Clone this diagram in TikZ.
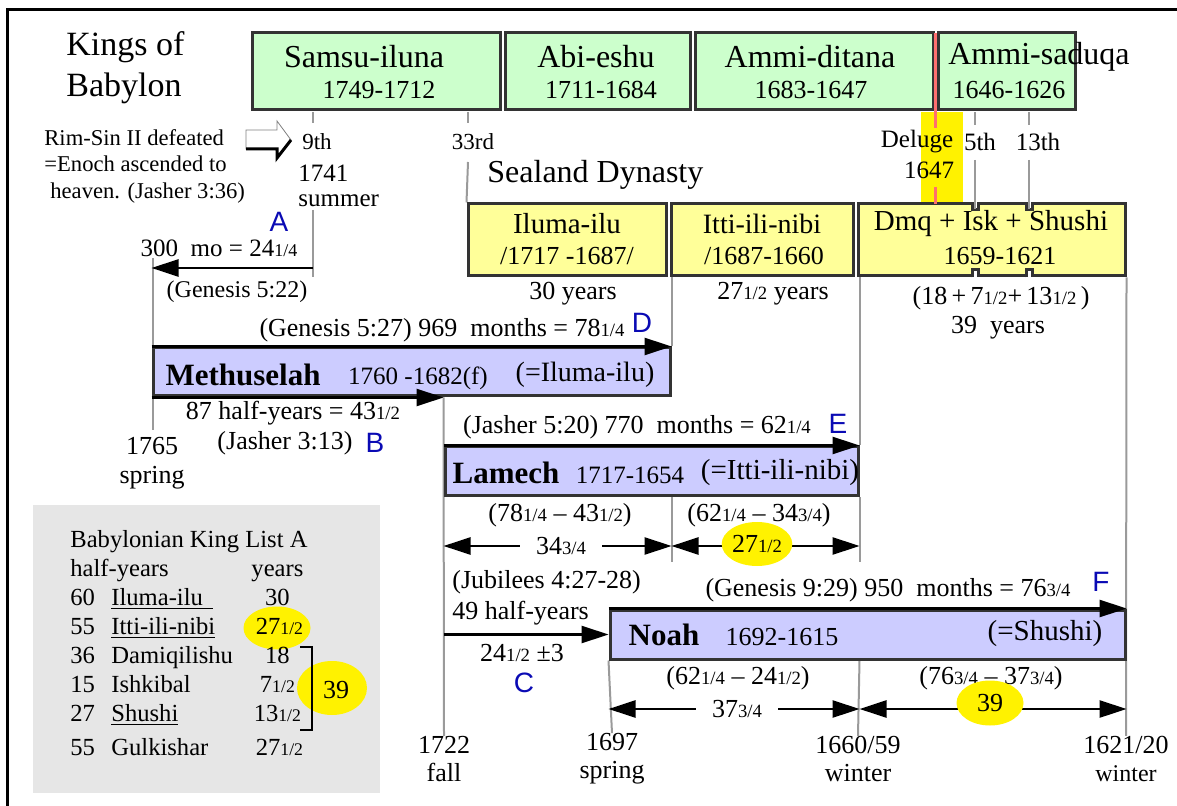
\documentclass[tikz,border=0pt]{standalone}
\usepackage{fontspec}
\usepackage{graphicx}
\setmainfont{Liberation Serif}
\newfontfamily\lettersf{Liberation Sans}
\usetikzlibrary{arrows.meta}
\usetikzlibrary{shapes.geometric}
\usetikzlibrary{backgrounds}
\usetikzlibrary{positioning}

\definecolor{kinggreen}{HTML}{CCFFCC}
\definecolor{sealandyellow}{HTML}{FFFF99}
\definecolor{patriarchblue}{HTML}{CCCCFF}
\definecolor{listgray}{HTML}{E6E6E6}
\definecolor{markgray}{HTML}{9A9A9A}
\definecolor{delugered}{HTML}{FF6F6F}
\definecolor{letterblue}{HTML}{0A0AB4}

% small fractions, as in 24 1/4
\newcommand{\hf}[1]{\scalebox{0.72}{#1}}

\begin{document}
\begin{tikzpicture}[x=0.5pt, y=-0.5pt,
    kingbox/.style={draw=black!80, line width=1.5pt, fill=kinggreen, inner sep=0pt},
    sealbox/.style={draw=black!80, line width=1.5pt, fill=sealandyellow, inner sep=0pt},
    lifebox/.style={draw=black!80, line width=1.5pt, fill=patriarchblue, inner sep=0pt},
    markline/.style={draw=markgray, line width=1pt},
    arr/.style={-{Triangle[length=13.5pt, width=8.5pt]}, line width=1.4pt},
    dblarr/.style={{Triangle[length=13.5pt, width=8.5pt]}-{Triangle[length=13.5pt, width=8.5pt]}, line width=1.4pt},
    lbl/.style={inner sep=0pt, font=\fontsize{#1}{#1}\selectfont},
    letter/.style={inner sep=0pt, text=letterblue, font=\lettersf\fontsize{14}{14}\selectfont},
    hilite/.style={ellipse, fill=yellow, inner sep=0pt, font=\fontsize{13}{13}\selectfont}
    ]

    \useasboundingbox (0,0) rectangle (1177,806);
    \draw[line width=1.5pt] (7,812) -- (7,10) -- (1183,10);

    % deluge highlight
    \fill[yellow] (921,112) rectangle (963,204);

    % kings of Babylon
    \node[kingbox, minimum width=124pt, minimum height=38.5pt] (samsu) at (376,71.5) {};
    \node[kingbox, minimum width=92.5pt, minimum height=38.5pt] (abieshu) at (597.5,71.5) {};
    \node[kingbox, minimum width=119pt, minimum height=38.5pt] (ammiditana) at (814,71.5) {};
    \node[kingbox, minimum width=68.5pt, minimum height=38.5pt] (ammisaduqa) at (1006.5,71.5) {};

    % sealand dynasty
    \node[sealbox, minimum width=99pt, minimum height=36pt] (iluma) at (567,240) {};
    \node[sealbox, minimum width=91pt, minimum height=36pt] (itti) at (762,240) {};
    \node[sealbox, minimum width=133.5pt, minimum height=36pt] (dmq) at (991.5,240) {};
    % notches in Dmq box
    \fill[white] (972,200) rectangle (978,210);
    \fill[white] (1026,200) rectangle (1032,210);
    \fill[white] (972,270) rectangle (978,280);
    \fill[white] (1026,270) rectangle (1032,280);
    \draw[line width=1.5pt, draw=black!80] (972,202.5) -- (972,210) -- (978,210) -- (978,202.5);
    \draw[line width=1.5pt, draw=black!80] (1026,202.5) -- (1026,210) -- (1032,210) -- (1032,202.5);
    \draw[line width=1.5pt, draw=black!80] (972,277.5) -- (972,270) -- (978,270) -- (978,277.5);
    \draw[line width=1.5pt, draw=black!80] (1026,277.5) -- (1026,270) -- (1032,270) -- (1032,277.5);

    % patriarchs
    \node[lifebox, minimum width=258.5pt, minimum height=24pt] (meth) at (411.5,372) {};
    \node[lifebox, minimum width=206.5pt, minimum height=24.5pt] (lamech) at (651.5,471.5) {};
    \node[lifebox, minimum width=257.5pt, minimum height=24.5pt] (noah) at (867.5,634.5) {};

    % king list A
    \node[fill=listgray, minimum width=173.5pt, minimum height=144pt, inner sep=0pt] (kinglist) at (206.5,649) {};

    % deluge line
    \draw[delugered, line width=1.4pt] (935.5,33) -- (935.5,128);
    \draw[delugered, line width=1.4pt] (935.5,187) -- (935.5,204);

    % labels at the top
    \node[inner sep=0pt, align=left, font=\fontsize{17}{20.5}\selectfont, anchor=west] (kings) at (66,67.5) {Kings of\\Babylon};
    \node[lbl=16] (samsuname) at (364,57) {Samsu-iluna};
    \node[lbl=13] (samsudates) at (379,90) {1749-1712};
    \node[lbl=16] (abiname) at (596,57) {Abi-eshu};
    \node[lbl=13] (abidates) at (601,90) {1711-1684};
    \node[lbl=16] (ditananame) at (810,57) {Ammi-ditana};
    \node[lbl=13] (ditanadates) at (811,90) {1683-1647};
    \node[lbl=16] (saduqaname) at (1039,57) {Ammi-saduqa};
    \node[lbl=13] (saduqadates) at (1009,90) {1646-1626};

    \node[inner sep=0pt, align=left, font=\fontsize{11.3}{13.25}\selectfont, anchor=west] (rimsin) at (44,166) {Rim-Sin II defeated\\=Enoch ascended to\\\hspace*{3pt}heaven. (Jasher 3:36)};
    % open arrow
    \draw[draw=black!50, fill=white, line width=0.4pt] (246,130) -- (277,130) -- (277,121) -- (291,140) -- (277,159) -- (277,149) -- (246,149) -- cycle;
    \draw[line width=1.5pt] (246,149) -- (277,149) -- (277,158) -- (291,140);

    \node[lbl=11.5] (ninth) at (317,142) {9th};
    \node[inner sep=0pt, align=left, font=\fontsize{12.5}{12.5}\selectfont, anchor=west] (y1741) at (298,185.5) {1741\\summer};
    \node[lbl=11.5] (third33) at (473,142) {33rd};
    \node[inner sep=0pt, font=\fontsize{16}{16}\selectfont, anchor=west] (sealand) at (487,175) {Sealand Dynasty};
    \node[lbl=12.5] (deluge) at (917,142) {Deluge};
    \node[lbl=12.5] (y1647) at (929,170) {1647};
    \node[lbl=12.5] (fifth) at (980,142) {5th};
    \node[lbl=12.5] (thirteenth) at (1038,142) {13th};

    % sealand labels
    \node[lbl=14.5] (ilumaname) at (567,224) {Iluma-ilu};
    \node[lbl=13] (ilumadates) at (567,256) {/1717 -1687/};
    \node[lbl=14] (ittiname) at (762,224) {Itti-ili-nibi};
    \node[lbl=13] (ittidates) at (764,256) {/1687-1660};
    \node[lbl=14.5] (dmqname) at (991,224) {Dmq + Isk + Shushi};
    \node[lbl=13] (dmqdates) at (1000,256) {1659-1621};
    \node[lbl=13] (ilumayears) at (573,294) {30 years};
    \node[lbl=13] (ittiyears) at (773,294) {27\hf{1/2} years};
    \node[lbl=13] (dmqsum) at (1001,298) {(18\,+\,7\hf{1/2}+\,13\hf{1/2}\,)};
    \node[lbl=13] (dmqyears) at (998,328) {39\ \ years};

    % A
    \node[letter] (letA) at (279,222) {A};
    \node[lbl=12.5] (mo300) at (219,248) {300\ \ mo = 24\hf{1/4}};
    \node[lbl=12] (gen522) at (237,292) {(Genesis 5:22)};
    \coordinate (aStart) at (313,268);
    \draw[arr] (aStart) -- (aStart -| meth.west);

    % Methuselah
    \node[lbl=13] (gen527) at (442,330) {(Genesis 5:27) 969\ \ months = 78\hf{1/4}};
    \node[letter] (letD) at (642,323) {D};
    \draw[arr] (meth.north west) -- (meth.north east);
    \node[inner sep=0pt, font=\bfseries\fontsize{15.5}{15.5}\selectfont] (methname) at (243,375) {Methuselah};
    \node[lbl=12.5] (methdates) at (418,378) {1760 -1682(f)};
    \node[lbl=14] (methalias) at (585,375) {(=Iluma-ilu)};
    \draw[arr] (meth.south west) -- (meth.south west -| lamech.west);
    \node[lbl=13] (half87) at (293,413) {87 half-years = 43\hf{1/2}};
    \node[lbl=13] (jas313) at (285,443) {(Jasher 3:13)};
    \node[letter] (letB) at (375,443) {B};
    \node[inner sep=0pt, align=center, font=\fontsize{13}{14.5}\selectfont] (y1765) at (152,463) {1765\\spring};

    % Lamech
    \node[lbl=13] (jas520) at (637,427) {(Jasher 5:20) 770\ \ months = 62\hf{1/4}};
    \node[letter] (letE) at (838,424) {E};
    \draw[arr] (lamech.north west) -- (lamech.north east);
    \node[inner sep=0pt, font=\bfseries\fontsize{15.5}{15.5}\selectfont] (lamechname) at (506,473) {Lamech};
    \node[lbl=12.5] (lamechdates) at (630,475) {1717-1654};
    \node[lbl=14.5] (lamechalias) at (780,473) {(=Itti-ili-nibi)};
    \node[lbl=13] (diffA) at (560,515) {(78\hf{1/4} -- 43\hf{1/2})};
    \node[lbl=13] (diffB) at (759,515) {(62\hf{1/4} -- 34\hf{3/4})};
    \node[lbl=13, inner xsep=8pt] (n343) at (561,546) {34\hf{3/4}};
    \draw[arr] (n343.west) -- (n343.west -| lamech.west);
    \draw[arr] (n343.east) -- (n343.east -| meth.east);
    \draw[dblarr] (n343 -| meth.east) -- (n343 -| lamech.east);
    \node[hilite, minimum width=32pt, minimum height=22pt] (hl271) at (757,544) {27\hf{1/2}};

    % Jubilees
    \node[lbl=13, anchor=west] (jub) at (452,582) {(Jubilees 4:27-28)};
    \node[lbl=13, anchor=west] (half49) at (452,613) {49 half-years};
    \draw[arr] (noah.west -| lamech.west) -- (noah.west);
    \node[lbl=13] (n245) at (522,653) {24\hf{1/2} ±3};
    \node[letter] (letC) at (524,683) {C};

    % Noah
    \node[lbl=13] (gen929) at (888,590) {(Genesis 9:29) 950\ \ months = 76\hf{3/4}};
    \node[letter] (letF) at (1101,582) {F};
    \draw[arr] (noah.north west) -- (noah.north east);
    \node[inner sep=0pt, font=\bfseries\fontsize{15.5}{15.5}\selectfont] (noahname) at (664,635) {Noah};
    \node[lbl=13] (noahdates) at (782,637) {1692-1615};
    \node[lbl=14.5] (noahalias) at (1045,634) {(=Shushi)};
    \node[lbl=13] (diffC) at (738,678) {(62\hf{1/4} -- 24\hf{1/2})};
    \node[lbl=13] (diffD) at (991,678) {(76\hf{3/4} -- 37\hf{3/4})};
    \node[lbl=13, inner xsep=8pt] (n373) at (737,709) {37\hf{3/4}};
    \draw[arr] (n373.west) -- (n373.west -| noah.west);
    \draw[arr] (n373.east) -- (n373.east -| lamech.east);
    \draw[dblarr] (n373 -| lamech.east) -- (n373 -| noah.east);
    \node[hilite, minimum width=33.5pt, minimum height=22.5pt] (hl39) at (990,703) {39};

    % dates at the bottom
    \node[inner sep=0pt, align=center, font=\fontsize{13}{14}\selectfont] (b1722) at (444,759) {1722\\fall};
    \node[inner sep=0pt, align=center, font=\fontsize{13}{14}\selectfont] (b1697) at (612,759) {1697\\spring};
    \node[inner sep=0pt, align=center, font=\fontsize{13}{14}\selectfont] (b1660) at (858,759) {1660/59\\winter};
    \node[inner sep=0pt, align=center, font=\fontsize{13}{14}\selectfont] (b1621) at (1126,759) {1621/20\\{\fontsize{12}{14}\selectfont winter}};

    % king list text
    \node[ellipse, fill=yellow, minimum width=33.5pt, minimum height=21.5pt, inner sep=0pt] (hlitti) at (277,628) {};
    \node[ellipse, fill=yellow, minimum width=35pt, minimum height=27pt, inner sep=0pt] (hllist39) at (332,688) {};
    \node[inner sep=0pt, align=left, anchor=north west, font=\fontsize{12.3}{14.5}\selectfont] (kinglisttext) at (70,530) {%
        Babylonian King List A\\
        \makebox[88.5pt][l]{half-years}\makebox[30pt]{years}\\
        \makebox[20.5pt][l]{60}\makebox[68pt][l]{\underline{Iluma-ilu\hspace{5pt}}}\makebox[30pt]{30}\\
        \makebox[20.5pt][l]{55}\makebox[68pt][l]{\underline{Itti-ili-nibi}}\makebox[30pt]{\,27\hf{1/2}}\\
        \makebox[20.5pt][l]{36}\makebox[68pt][l]{Damiqilishu}\makebox[30pt]{18}\\
        \makebox[20.5pt][l]{15}\makebox[68pt][l]{Ishkibal}\makebox[30pt]{7\hf{1/2}}\\
        \makebox[20.5pt][l]{27}\makebox[68pt][l]{\underline{Shushi}}\makebox[30pt]{13\hf{1/2}}\\[2.5pt]
        \makebox[20.5pt][l]{55}\makebox[68pt][l]{Gulkishar}\makebox[30pt]{\,27\hf{1/2}}};
    \draw[line width=1.2pt] (300,647) -- (312,647) -- (312,730) -- (300,730);
    \node[lbl=13] (list39) at (336,690) {39};

    % timeline marks
    \draw[markline] (975,112.5) -- (975,125);
    \draw[markline] (975,160) -- (975,209);
    \draw[markline] (1029,112.5) -- (1029,125);
    \draw[markline] (1029,160) -- (1029,209);
    \begin{scope}[on background layer]
        \draw[markline] (313,112) -- (313,123);
        \draw[markline] (468,112) -- (468,123);
        \draw[markline] (468,162) -- (iluma.north west);
        \draw[markline] (313,210) -- (313,277);
        \draw[markline] (153,258) -- (153,430);
        \draw[markline] (meth.north east |- iluma.south) -- (meth.north east);
        \draw[markline] (meth.east |- lamech.south) -- ++(0,64);
        \draw[markline] (lamech.north east |- dmq.south) -- (lamech.north east);
        \draw[markline] (lamech.south east) -- ++(0,64);
        \draw[markline] (lamech.east |- noah.south) -- (b1660.north);
        \draw[markline] (noah.north east |- dmq.south) -- (b1621.north);
        \draw[markline] (lamech.north west |- meth.south) -- (b1722.north);
        \draw[markline] (noah.south west) -- (b1697.north);
    \end{scope}

\end{tikzpicture}
\end{document}
